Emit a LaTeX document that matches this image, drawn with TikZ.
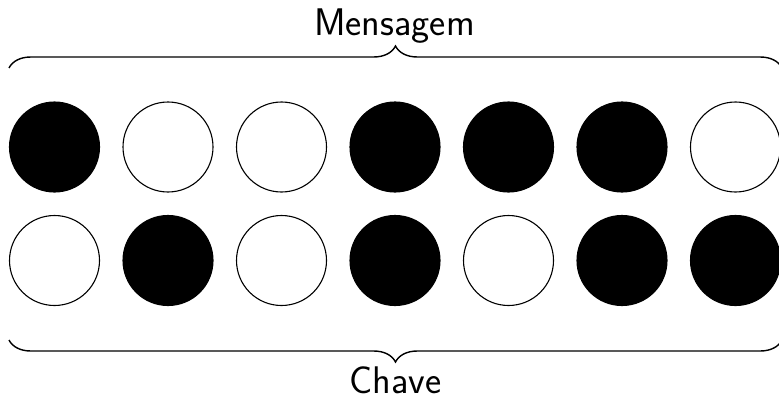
\documentclass[tikz,border=0pt]{standalone}
\usetikzlibrary{decorations.pathreplacing}
\begin{document}
\begin{tikzpicture}[x=1pt,y=-1pt,
  bit/.style={circle,draw=black,line width=1.1pt,minimum size=90pt,inner sep=0pt},
  one/.style={bit,fill=black},
  zero/.style={bit,fill=white},
  bracestyle/.style={decorate,decoration={brace,amplitude=22pt},line width=1.4pt},
  lbl/.style={font=\sffamily\fontsize{38.5}{42}\selectfont,inner sep=0pt,anchor=base}]
\useasboundingbox (0,0) rectangle (779,396);
% message bits (top row)
\foreach \s [count=\i] in {one,zero,zero,one,one,one,zero}
  \node[\s] (m\i) at ({54.5+113.5*(\i-1)},147) {};
% key bits (bottom row)
\foreach \s [count=\i] in {zero,one,zero,one,zero,one,one}
  \node[\s] (k\i) at ({54.5+113.5*(\i-1)},260.5) {};
% brace end points
\coordinate (tl) at (9,68);
\coordinate (tr) at (782,68);
\coordinate (bl) at (9,340);
\coordinate (br) at (782,340);
\draw[bracestyle] (tl) -- (tr);
\draw[bracestyle] (br) -- (bl);
\node[lbl] (msg) at (394.5,36) {Mensagem};
\node[lbl] (key) at (395.5,393) {Chave};
\end{tikzpicture}
\end{document}
